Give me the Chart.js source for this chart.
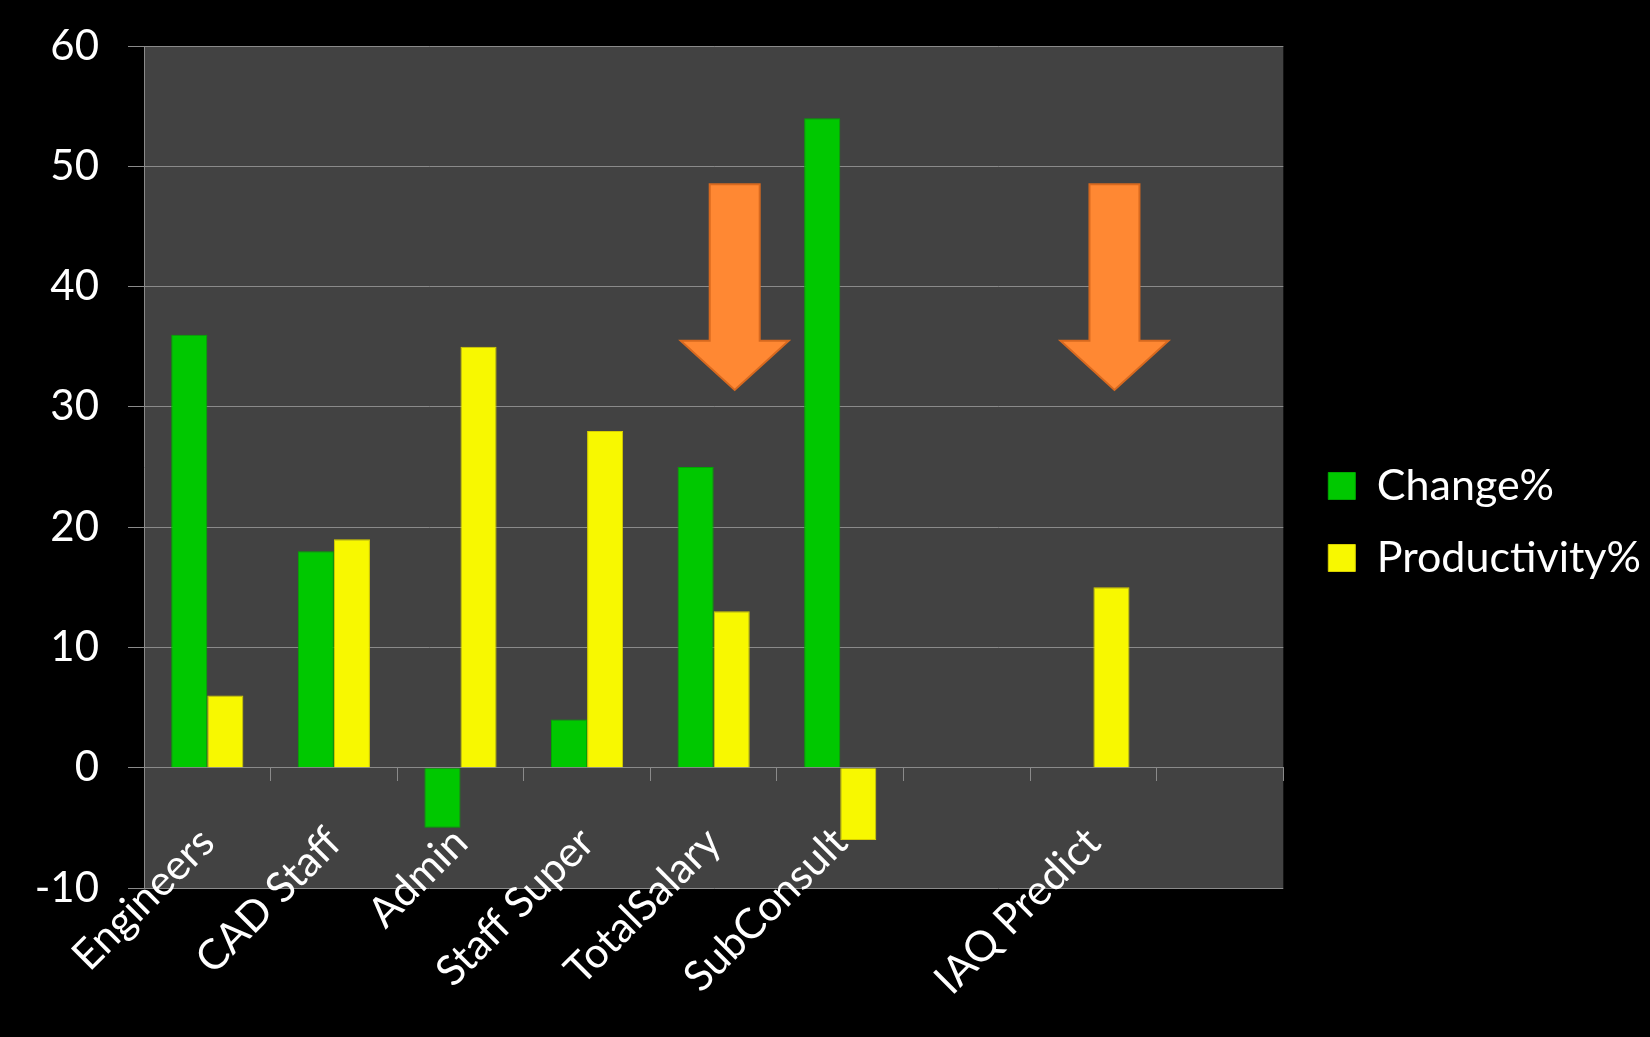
<!DOCTYPE html>
<html lang="en">
<head>
    <meta charset="UTF-8">
    <title>Change% vs Productivity%</title>
    <script src="https://cdn.jsdelivr.net/npm/chart.js"></script>
    <style>
        body {
            margin: 0;
            background-color: #000;
        }
        canvas {
            display: block;
        }
    </style>
</head>
<body>
    <canvas id="chart" width="1650" height="1037"></canvas>

    <script>
        // Categories (two of them are empty slots in the original slide)
        const categories = ["Engineers", "CAD Staff", "Admin", "Staff Super", "TotalSalary", "SubConsult", "", "IAQ Predict", ""];

        // Series values
        const changePct = [36, 18, -5, 4, 25, 54, null, null, null];
        const productivityPct = [6, 19, 35, 28, 13, -6, null, 15, null];

        // Y axis ticks
        const yTicks = [-10, 0, 10, 20, 30, 40, 50, 60];

        // Orange down arrows drawn over these categories (value units on the y axis)
        const arrowCategories = ["TotalSalary", "IAQ Predict"];
        const arrowTop = 48.5;
        const arrowHeadStart = 35.5;
        const arrowTip = 31.4;

        const fontFamily = "Lato, 'Open Sans', sans-serif";

        // Grey plot background
        const plotBackground = {
            id: "plotBackground",
            beforeDraw(chart) {
                const { ctx, chartArea } = chart;
                ctx.save();
                ctx.fillStyle = "#424242";
                ctx.fillRect(chartArea.left, chartArea.top, chartArea.right - chartArea.left, chartArea.bottom - chartArea.top);
                ctx.restore();
            }
        };

        // Nudge the legend a bit further from the plot (item spacing stays tight)
        const legendShift = {
            id: "legendShift",
            afterLayout(chart) {
                if (chart.legend) {
                    chart.legend.left += 16;
                    chart.legend.right += 16;
                }
            }
        };

        // Orange arrows, placed on the productivity bars
        const arrows = {
            id: "arrows",
            afterDatasetsDraw(chart) {
                const { ctx } = chart;
                const yScale = chart.scales.y;
                const meta = chart.getDatasetMeta(1);
                const shaft = 25;
                const head = 54;
                arrowCategories.forEach(name => {
                    const i = categories.indexOf(name);
                    const cx = meta.data[i].x + 3;
                    const yTop = yScale.getPixelForValue(arrowTop);
                    const yHead = yScale.getPixelForValue(arrowHeadStart);
                    const yTip = yScale.getPixelForValue(arrowTip);
                    ctx.save();
                    ctx.beginPath();
                    ctx.moveTo(cx - shaft, yTop);
                    ctx.lineTo(cx + shaft, yTop);
                    ctx.lineTo(cx + shaft, yHead);
                    ctx.lineTo(cx + head, yHead);
                    ctx.lineTo(cx, yTip);
                    ctx.lineTo(cx - head, yHead);
                    ctx.lineTo(cx - shaft, yHead);
                    ctx.closePath();
                    ctx.fillStyle = "#FF8833";
                    ctx.fill();
                    ctx.lineWidth = 2;
                    ctx.strokeStyle = "#D8691F";
                    ctx.stroke();
                    ctx.restore();
                });
            }
        };

        new Chart(document.getElementById("chart"), {
            type: "bar",
            data: {
                labels: categories,
                datasets: [{
                    label: "Change%",
                    data: changePct,
                    backgroundColor: "#00C800",
                    borderColor: "#00A800",
                    borderWidth: 1
                }, {
                    label: "Productivity%",
                    data: productivityPct,
                    backgroundColor: "#F8F800",
                    borderColor: "#D8CF00",
                    borderWidth: 1
                }]
            },
            options: {
                responsive: false,
                animation: false,
                categoryPercentage: 0.57,
                barPercentage: 1.0,
                layout: {
                    padding: { left: 0, top: 7, right: 15, bottom: 0 }
                },
                plugins: {
                    legend: {
                        position: "right",
                        labels: {
                            color: "#fff",
                            font: { family: fontFamily, size: 43 },
                            boxWidth: 27,
                            boxHeight: 27,
                            padding: 29
                        }
                    },
                    tooltip: { enabled: false }
                },
                scales: {
                    y: {
                        min: -10,
                        max: 60,
                        afterBuildTicks: scale => {
                            scale.ticks = yTicks.map(v => ({ value: v }));
                        },
                        // fixed axis width and room above / below the plot
                        afterFit: scale => {
                            scale.width = 144;
                            scale.paddingTop = 46;
                            scale.paddingBottom = 149;
                        },
                        grid: {
                            color: "#8a8a8a",
                            tickColor: "#8a8a8a",
                            tickLength: 16
                        },
                        border: { color: "#8a8a8a" },
                        ticks: {
                            color: "#fff",
                            padding: 29,
                            font: { family: fontFamily, size: 42 }
                        }
                    },
                    // category axis sits on the zero line, labels hang below it
                    x: {
                        position: { y: 0 },
                        afterFit: scale => {
                            scale.paddingLeft = 0;
                            scale.paddingRight = 0;
                        },
                        grid: {
                            offset: true,
                            drawOnChartArea: false,
                            tickColor: "#8a8a8a",
                            tickLength: 13
                        },
                        border: { color: "#8a8a8a" },
                        ticks: {
                            color: "#fff",
                            font: { family: fontFamily, size: 42 },
                            minRotation: 45,
                            maxRotation: 45,
                            autoSkip: false,
                            padding: 37,
                            z: 1
                        }
                    }
                }
            },
            plugins: [plotBackground, legendShift, arrows]
        });
    </script>
</body>
</html>
